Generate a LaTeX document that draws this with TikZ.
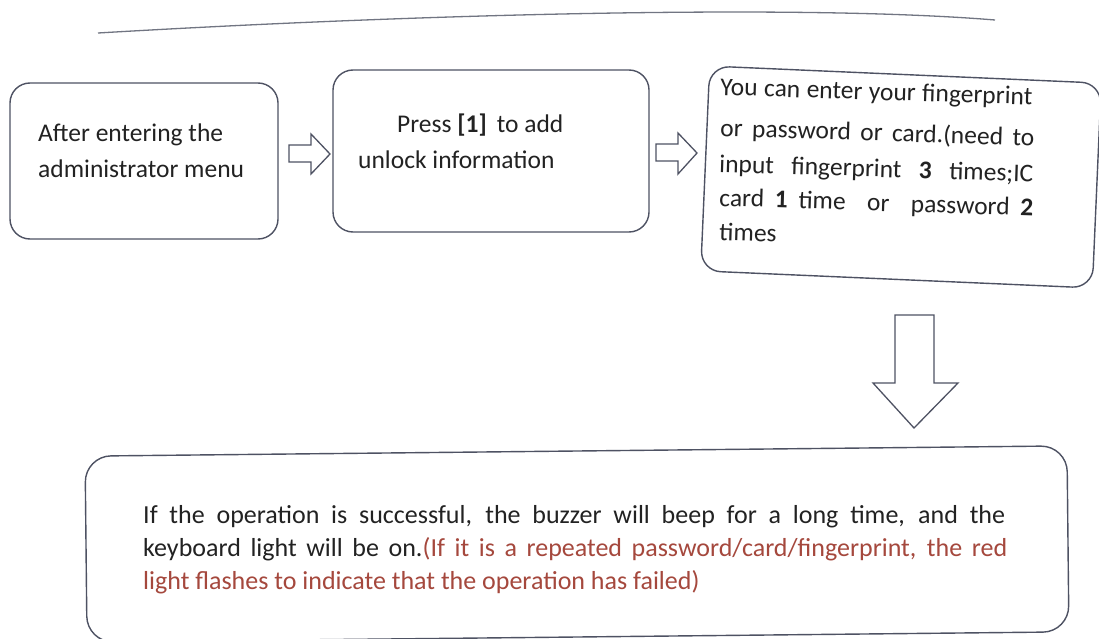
\documentclass[tikz,border=0pt]{standalone}
\usepackage{fontspec}
\setmainfont{Carlito}
\definecolor{linec}{HTML}{4E5263}
\definecolor{txt}{HTML}{222222}
\definecolor{redtxt}{HTML}{A5483D}
\begin{document}
\begin{tikzpicture}[x=1pt,y=-1pt,
  box/.style={draw=linec, line width=1.4pt, rounded corners=20pt, inner sep=0pt},
  hollow/.style={draw=linec, line width=1.3pt, fill=white, line join=miter},
  lbl/.style={anchor=base west, inner sep=0pt, text=txt, font=\fontsize{25.5}{30}\selectfont},
  lbl4/.style={anchor=base west, inner sep=0pt, text=txt, font=\fontsize{26}{30}\selectfont}]
\useasboundingbox[fill=white] (0,0) rectangle (1099,639);
% top rule
\draw[linec!80, line width=1.3pt] (98,33) .. controls (420,14) and (800,4) .. (995,20);
% boxes
\node[box, minimum width=268pt, minimum height=156pt] (b1) at (144,161) {};
\node[box, minimum width=316pt, minimum height=162pt] (b2) at (491,151) {};
\node[box, minimum width=392pt, minimum height=205pt, rotate=-2.5] (b3) at (901,177) {};
\node[box, minimum width=982pt, minimum height=186pt, rounded corners=26pt, rotate=0.6] (b4) at (577,544) {};
% box 1 text
\node[lbl] (t1a) at (38,142) {After entering the};
\node[lbl] (t1b) at (38,178) {administrator menu};
% box 2 text
\node[lbl] (t2a) at (397,133) {Press \textbf{[1]} \,to add};
\node[lbl] (t2b) at (358,168) {unlock information};
% box 3 text
\node[lbl, rotate=-1.8] (t3a) at (720,95) {\makebox[312pt][s]{You can enter your fingerprint}};
\node[lbl, rotate=-1.8] (t3b) at (720,136) {\makebox[314pt][s]{or password or card.(need to}};
\node[lbl, rotate=-1.8] (t3c) at (719,172) {\makebox[314pt][s]{input fingerprint \textbf{3} times;IC}};
\node[lbl, rotate=-1.8] (t3d) at (719,206) {\makebox[314pt][s]{card \textbf{1} time \ or \ password \textbf{2}}};
\node[lbl, rotate=-1.8] (t3e) at (719,240) {times};
% box 4 text
\node[lbl4] (t4a) at (143,523) {\makebox[862pt][s]{If the operation is successful, the buzzer will beep for a long time, and the}};
\node[lbl4] (t4b) at (143,556) {\makebox[864pt][s]{keyboard light will be on.\textcolor{redtxt}{(If it is a repeated password/card/fingerprint, the red}}};
\node[lbl4, text=redtxt] (t4c) at (143,589) {light flashes to indicate that the operation has failed)};
% hollow arrows
\draw[hollow] (289,145) -- (311,145) -- (311,134) -- (330,154) -- (311,174) -- (311,162) -- (289,162) -- cycle;
\draw[hollow] (656,144) -- (678,144) -- (678,133) -- (697,153) -- (678,174) -- (678,161) -- (656,161) -- cycle;
\draw[hollow] (895,315) -- (934,315) -- (934,383) -- (958,383) -- (914,428) -- (873,383) -- (895,383) -- cycle;
\end{tikzpicture}
\end{document}
